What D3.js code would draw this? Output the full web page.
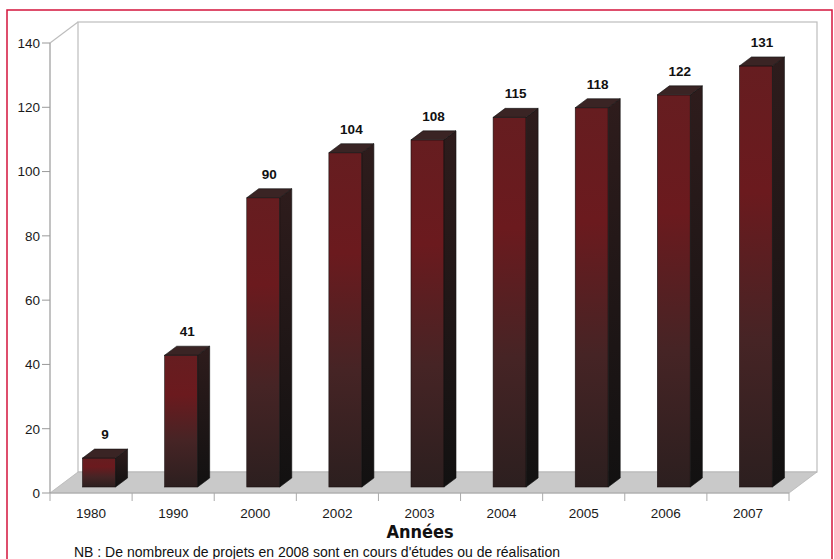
<!DOCTYPE html>
<html lang="fr">
<head>
<meta charset="UTF-8">
<title>Projets par année</title>
<script src="https://d3js.org/d3.v7.min.js"></script>
<style>
  html, body { margin: 0; padding: 0; background: #fff; overflow: hidden; }
  svg { display: block; }
  .tick-label { font: 13.5px "Liberation Sans", Arial, sans-serif; fill: #1a1a1a; }
  .val-label { font: bold 13.5px "Liberation Sans", Arial, sans-serif; fill: #111; }
</style>
</head>
<body>
<svg id="chart" width="834" height="559"></svg>
<script>
// data
const years = ["1980", "1990", "2000", "2002", "2003", "2004", "2005", "2006", "2007"];
const counts = [9, 41, 90, 104, 108, 115, 118, 122, 131];
const yTicks = [0, 20, 40, 60, 80, 100, 120, 140];

const svg = d3.select("#chart");

// 3d offsets: floor depth, bar position inside the floor, bar depth
const depth = { dx: 28, dy: -21 };
const inset = { dx: 8, dy: -6 };
const barDepth = { dx: 12, dy: -9 };

const x = d3.scaleBand().domain(years).range([50, 789]).padding(0);
const y = d3.scaleLinear().domain([0, 140]).range([493, 43]);
const barW = 33;

// gradients
const defs = svg.append("defs");
const front = defs.append("linearGradient").attr("id", "front")
  .attr("x1", 0).attr("y1", 0).attr("x2", 0).attr("y2", 1);
front.append("stop").attr("offset", "0%").attr("stop-color", "#661d20");
front.append("stop").attr("offset", "30%").attr("stop-color", "#6b1a1e");
front.append("stop").attr("offset", "65%").attr("stop-color", "#462425");
front.append("stop").attr("offset", "100%").attr("stop-color", "#2c1f1f");
const side = defs.append("linearGradient").attr("id", "side")
  .attr("x1", 0).attr("y1", 0).attr("x2", 0).attr("y2", 1);
side.append("stop").attr("offset", "0%").attr("stop-color", "#2e1c1c");
side.append("stop").attr("offset", "100%").attr("stop-color", "#121111");

// red frame
svg.append("rect")
  .attr("x", 7).attr("y", 10).attr("width", 825).attr("height", 560)
  .attr("fill", "none").attr("stroke", "#d4143c").attr("stroke-width", 1.5);

const x0 = x.range()[0], x1 = x.range()[1];
const yTop = y(140), y0 = y(0);

// back wall
svg.append("rect")
  .attr("x", x0 + depth.dx).attr("y", yTop + depth.dy)
  .attr("width", x1 - x0).attr("height", y0 - yTop)
  .attr("fill", "#fff").attr("stroke", "#bdbdbd").attr("stroke-width", 1.2);

// side wall edge (left)
svg.append("path")
  .attr("d", `M${x0},${yTop} L${x0 + depth.dx},${yTop + depth.dy}`)
  .attr("stroke", "#bdbdbd").attr("stroke-width", 1.2).attr("fill", "none");

// floor
svg.append("path")
  .attr("d", `M${x0},${y0} L${x1},${y0} L${x1 + depth.dx},${y0 + depth.dy} L${x0 + depth.dx},${y0 + depth.dy} Z`)
  .attr("fill", "#c9c9c9").attr("stroke", "#b5b5b5").attr("stroke-width", 0.8);

// y axis
svg.append("line")
  .attr("x1", x0).attr("x2", x0).attr("y1", yTop).attr("y2", y0)
  .attr("stroke", "#999").attr("stroke-width", 1.2);
const yt = svg.append("g").selectAll("g").data(yTicks).join("g");
yt.append("line")
  .attr("x1", x0 - 8).attr("x2", x0).attr("y1", d => y(d)).attr("y2", d => y(d))
  .attr("stroke", "#999");
yt.append("text").attr("class", "tick-label")
  .attr("x", x0 - 10).attr("y", d => y(d)).attr("dy", "0.36em")
  .attr("text-anchor", "end").text(d => d);

// x axis ticks at band edges
const edges = years.map(d => x(d)).concat([x1]);
svg.append("g").selectAll("line").data(edges).join("line")
  .attr("x1", d => d).attr("x2", d => d).attr("y1", y0).attr("y2", y0 + 8)
  .attr("stroke", "#aaa");
svg.append("line")
  .attr("x1", x0).attr("x2", x1).attr("y1", y0).attr("y2", y0)
  .attr("stroke", "#aaa");
svg.append("g").selectAll("text").data(years).join("text")
  .attr("class", "tick-label")
  .attr("x", d => x(d) + x.bandwidth() / 2).attr("y", 518)
  .attr("text-anchor", "middle").text(d => d);

// bars
const bars = svg.append("g").selectAll("g").data(years.map((d, i) => ({ year: d, v: counts[i] }))).join("g");
const bx = d => x(d.year) + x.bandwidth() / 2 - barW / 2 + inset.dx;
const by = d => y(d.v) + inset.dy;
const bb = y0 + inset.dy;

bars.append("rect")
  .attr("x", bx).attr("y", by).attr("width", barW).attr("height", d => bb - by(d))
  .attr("fill", "url(#front)").attr("stroke", "#1a1010").attr("stroke-width", 0.6);
bars.append("path")
  .attr("d", d => {
    const l = bx(d) + barW, t = by(d);
    return `M${l},${t} L${l + barDepth.dx},${t + barDepth.dy} L${l + barDepth.dx},${bb + barDepth.dy} L${l},${bb} Z`;
  })
  .attr("fill", "url(#side)").attr("stroke", "#111").attr("stroke-width", 0.6);
bars.append("path")
  .attr("d", d => {
    const l = bx(d), t = by(d);
    return `M${l},${t} L${l + barDepth.dx},${t + barDepth.dy} L${l + barW + barDepth.dx},${t + barDepth.dy} L${l + barW},${t} Z`;
  })
  .attr("fill", "#3a2424").attr("stroke", "#111").attr("stroke-width", 0.6);
bars.append("text").attr("class", "val-label")
  .attr("x", d => bx(d) + barW / 2 + barDepth.dx / 2)
  .attr("y", d => by(d) + barDepth.dy - 10)
  .attr("text-anchor", "middle").text(d => d.v);

// axis title
svg.append("text")
  .attr("x", 420).attr("y", 538).attr("text-anchor", "middle")
  .style("font", "bold 18px 'DejaVu Sans Condensed', 'DejaVu Sans', sans-serif")
  .style("fill", "#111").text("Années");

// note
svg.append("text")
  .attr("x", 74).attr("y", 557)
  .style("font", "14px 'Liberation Sans', Arial, sans-serif")
  .style("fill", "#111")
  .text("NB : De nombreux de projets en 2008 sont en cours d'études ou de réalisation");
</script>
</body>
</html>
